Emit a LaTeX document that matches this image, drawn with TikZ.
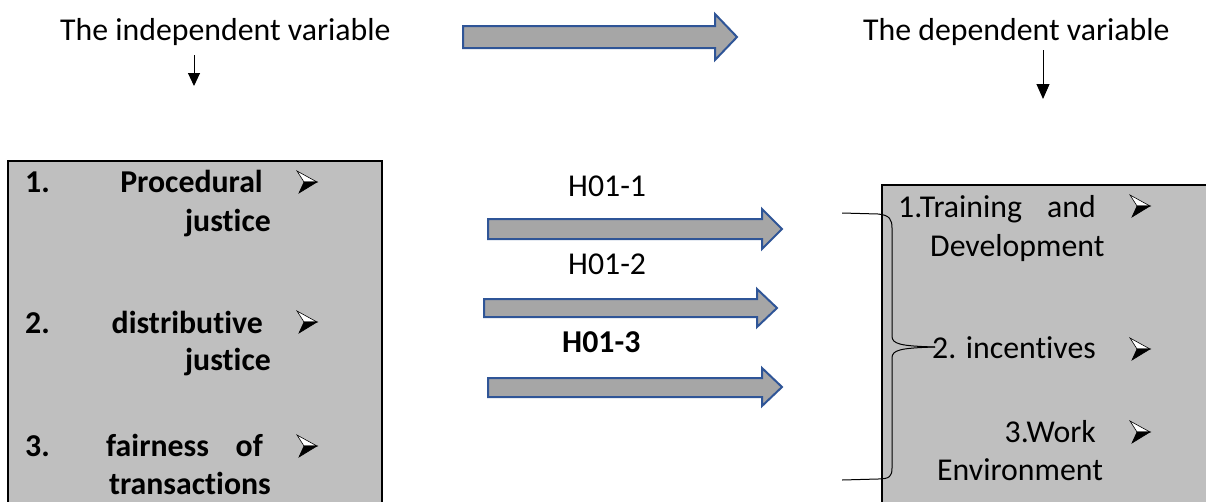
\documentclass[tikz,border=0pt]{standalone}
\usepackage{fontspec}
\setmainfont{Carlito}[RawFeature={-liga;-clig;-dlig}]
\usetikzlibrary{arrows.meta}
\definecolor{boxgray}{HTML}{BFBFBF}
\definecolor{arrgray}{HTML}{A6A6A6}
\definecolor{arrblue}{HTML}{2F5597}
\begin{document}
\begin{tikzpicture}[x=1pt,y=-1pt,
  txt/.style={inner sep=0pt,font=\fontsize{31.8}{37}\selectfont},
  btxt/.style={inner sep=0pt,font=\fontsize{31.8}{37}\selectfont\bfseries},
  varbox/.style={draw=black,line width=2pt,fill=boxgray},
  bigarrow/.style={draw=arrblue,line width=2pt,fill=arrgray,line join=miter},
  downarrow/.style={line width=1pt,-{Triangle[width=12pt,length=13pt]}},
  bracestyle/.style={line width=1pt},
  pics/tdhead/.style={code={
    \draw[line width=0.6pt,fill=white,line join=miter] (-10,-11) -- (10,0) -- (-3,0) -- cycle;
    \draw[line width=0.6pt,fill=black,line join=miter] (-3,0) -- (10,0) -- (-8,11) -- cycle;
  }}]
\useasboundingbox (0,0) rectangle (1206,501);

% headings
\node[txt,anchor=base west] (indep) at (60,40) {The independent variable};
\node[txt,anchor=base west] (dep) at (863,40) {The dependent variable};
\coordinate (indepS) at (194,55);
\coordinate (indepE) at (194,86);
\coordinate (depS) at (1043,50);
\coordinate (depE) at (1043,99);
\draw[downarrow] (indepS) -- (indepE);
\draw[downarrow,-{Triangle[width=13pt,length=15pt]}] (depS) -- (depE);

% top big arrow
\draw[bigarrow] (463,26) -- (715,26) -- (715,14) -- (737,37) -- (715,60) -- (715,48) -- (463,48) -- cycle;

% boxes
\draw[varbox] (8,161) rectangle (382,515);
\draw[varbox] (882,185) rectangle (1220,515);

% left box text
\node[btxt,anchor=base west] (l1n) at (25,192) {1.};
\node[btxt,anchor=base east] (l1a) at (263,192) {Procedural};
\node[btxt,anchor=base east] (l1b) at (271,231) {justice};
\node[btxt,anchor=base west] (l2n) at (25,333) {2.};
\node[btxt,anchor=base east] (l2a) at (263,333) {distributive};
\node[btxt,anchor=base east] (l2b) at (271,370) {justice};
\node[btxt,anchor=base west] (l3n) at (25,456) {3.};
\node[btxt,anchor=base west] (l3a) at (106,456) {fairness};
\node[btxt,anchor=base east] (l3c) at (263,456) {of};
\node[btxt,anchor=base east] (l3b) at (271,494) {transactions};
\pic at (307,182) {tdhead};
\pic at (307,322) {tdhead};
\pic at (307,446) {tdhead};

% middle arrows
\draw[bigarrow] (488,219) -- (762,219) -- (762,209) -- (782,229) -- (762,249) -- (762,239) -- (488,239) -- cycle;
\draw[bigarrow] (484,299) -- (757,299) -- (757,289) -- (777,308) -- (757,327) -- (757,317) -- (484,317) -- cycle;
\draw[bigarrow] (488,378) -- (762,378) -- (762,368) -- (782,387) -- (762,406) -- (762,397) -- (488,397) -- cycle;
\node[txt,anchor=base west] (h1) at (568,196) {H01-1};
\node[txt,anchor=base west] (h2) at (568,274) {H01-2};
\node[btxt,anchor=base west] (h3) at (562,352) {H01-3};

% right box text
\node[txt,anchor=base west] (r1a) at (898,217) {1.Training};
\node[txt,anchor=base east] (r1c) at (1096,217) {and};
\node[txt,anchor=base west] (r1b) at (930,256) {Development};
\node[txt,anchor=base east] (r2) at (1096,358) {2. incentives};
\node[txt,anchor=base east] (r3a) at (1096,442) {3.Work};
\node[txt,anchor=base west] (r3b) at (937,480) {Environment};
\pic at (1140,206) {tdhead};
\pic at (1140,349) {tdhead};
\pic at (1140,432) {tdhead};

% brace
\coordinate (bt) at (842,213);
\coordinate (bm) at (935,347);
\coordinate (bb) at (842,480);
\draw[bracestyle] (bt) -- (878,214) .. controls (890,215) and (892,220) .. (892,228) -- (892,336) .. controls (892,344) and (900,346) .. (bm);
\draw[bracestyle] (bm) .. controls (900,348) and (892,350) .. (892,358) -- (892,468) .. controls (892,476) and (890,479) .. (878,479) -- (bb);
\end{tikzpicture}
\end{document}
